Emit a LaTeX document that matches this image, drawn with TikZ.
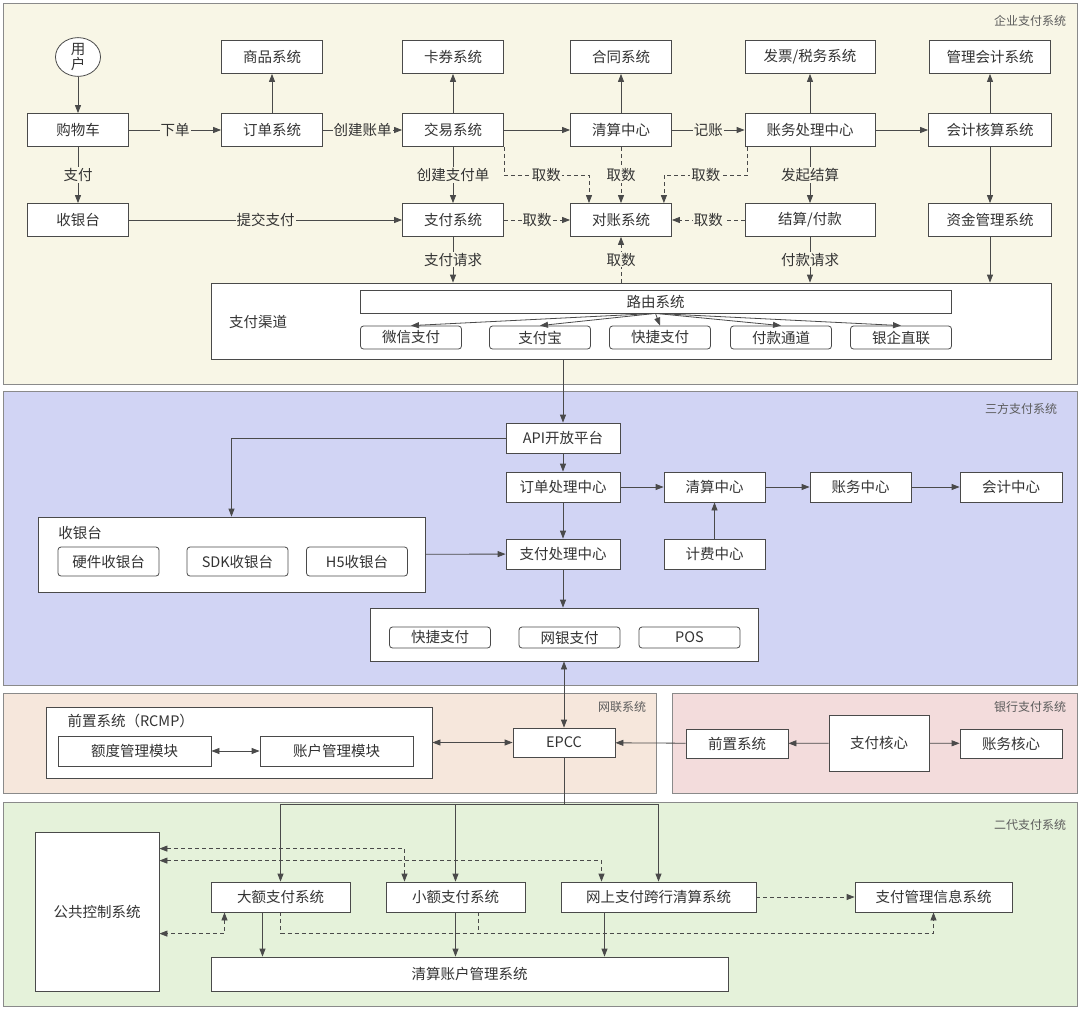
\documentclass[tikz,border=0pt]{standalone}
\usepackage{fontspec}
\setmainfont{Noto Sans CJK SC}
\usepackage{tikz}
\usetikzlibrary{
  positioning,
  calc,
  arrows.meta,
  shapes.geometric
}
\definecolor{qiyebg}{HTML}{F8F6E6}
\definecolor{sanfangbg}{HTML}{D1D4F4}
\definecolor{wangliangbg}{HTML}{F6E7DC}
\definecolor{yinhangbg}{HTML}{F3DCDC}
\definecolor{erdaibg}{HTML}{E5F2DA}
\definecolor{linecol}{HTML}{4A4A4A}
\definecolor{framecol}{HTML}{8A8A8A}
\definecolor{textcol}{HTML}{333333}
\newcommand{\boxfont}{\fontsize{14.5}{16}\selectfont}
\newcommand{\secfont}{\fontsize{12}{14}\selectfont}
\tikzstyle{box}=[draw=linecol, fill=white, line width=0.8pt, minimum width=101pt,
  minimum height=33pt, inner sep=0pt, font=\boxfont, text=textcol]
\tikzstyle{rbox}=[box, rounded corners=3pt, minimum height=23pt]
\tikzstyle{frame}=[draw=framecol, line width=1pt]
\tikzstyle{secname}=[font=\secfont, text=textcol!80]
\tikzstyle{conn}=[->, draw=linecol, line width=0.8pt]
\tikzstyle{fetch}=[conn, dash pattern=on 4pt off 3pt]
\tikzstyle{lbl}=[fill=qiyebg, inner sep=1pt, font=\boxfont, text=textcol]

\begin{document}
\begin{tikzpicture}[x=1pt, y=-1pt, >={Triangle[length=8pt,width=6pt]}]
  \useasboundingbox (0,0) rectangle (1080,1010);

  % 背景区域
  \fill[white] (0,0) rectangle (1080,1010);
  \draw[frame, fill=qiyebg] (3,3) rectangle (1077,384);
  \draw[frame, fill=sanfangbg] (3,391) rectangle (1077,685);
  \draw[frame, fill=wangliangbg] (3,693) rectangle (656,793);
  \draw[frame, fill=yinhangbg] (672,693) rectangle (1077,793);
  \draw[frame, fill=erdaibg] (3,802) rectangle (1077,1006);
  \node[secname] (t-qiye) at (1030,21) {企业支付系统};
  \node[secname] (t-sanfang) at (1021,409) {三方支付系统};
  \node[secname] (t-wanglian) at (622,707) {网联系统};
  \node[secname] (t-yinhang) at (1030,707) {银行支付系统};
  \node[secname] (t-erdai) at (1030,825) {二代支付系统};

  % 企业支付系统
  \node[ellipse, draw=linecol, fill=white, line width=0.8pt, minimum width=45pt,
    minimum height=37pt, inner sep=0pt, align=center, text=textcol,
    font=\fontsize{14.5}{15}\selectfont] (yonghu) at (78,57) {用\\户};
  \node[box] (shangpin) at (272,57) {商品系统};
  \node[box] (kaquan) at (453,57) {卡券系统};
  \node[box] (hetong) at (621,57) {合同系统};
  \node[box, minimum width=130pt] (fapiao) at (810,57) {发票/税务系统};
  \node[box, minimum width=121pt] (guanlikj) at (990,57) {管理会计系统};

  \node[box] (gouwuche) at (78,130) {购物车};
  \node[box] (dingdan) at (272,130) {订单系统};
  \node[box] (jiaoyi) at (453,130) {交易系统};
  \node[box] (qingsuan) at (621,130) {清算中心};
  \node[box, minimum width=130pt] (zhangwu) at (810,130) {账务处理中心};
  \node[box, minimum width=123pt] (hesuan) at (990,130) {会计核算系统};

  \node[box] (shouyin) at (78,220) {收银台};
  \node[box] (zhifu) at (453,220) {支付系统};
  \node[box] (duizhang) at (621,220) {对账系统};
  \node[box, minimum width=130pt] (jiesuan) at (810,220) {结算/付款};
  \node[box, minimum width=123pt] (zijin) at (990,220) {资金管理系统};

  % 支付渠道
  \node[box, minimum width=840pt, minimum height=76pt] (qudao) at (631,321) {};
  \node[font=\boxfont, text=textcol] (qudao-t) at (258,322) {支付渠道};
  \node[box, minimum width=591pt, minimum height=23pt] (luyou) at (655.5,301.5) {路由系统};
  \node[rbox] (weixin) at (411,337.5) {微信支付};
  \node[rbox] (zhifubao) at (540,337.5) {支付宝};
  \node[rbox] (kuaijie) at (660,337.5) {快捷支付};
  \node[rbox] (fukuan) at (781,337.5) {付款通道};
  \node[rbox] (yinqi) at (901,337.5) {银企直联};

  \draw[conn] (yonghu) -- (gouwuche);
  \draw[conn] (gouwuche) -- node[lbl] {下单} (dingdan);
  \draw[conn] (dingdan) -- node[lbl] {创建账单} (jiaoyi);
  \draw[conn] (jiaoyi) -- (qingsuan);
  \draw[conn] (qingsuan) -- node[lbl] {记账} (zhangwu);
  \draw[conn] (zhangwu) -- (hesuan);
  \draw[conn] (dingdan) -- (shangpin);
  \draw[conn] (jiaoyi) -- (kaquan);
  \draw[conn] (qingsuan) -- (hetong);
  \draw[conn] (zhangwu) -- (fapiao);
  \draw[conn] (hesuan) -- (guanlikj);
  \draw[conn] (hesuan) -- (zijin);
  \draw[conn] (gouwuche) -- node[lbl] {支付} (shouyin);
  \draw[conn] (shouyin) -- node[lbl] {提交支付} (zhifu);
  \draw[conn] (jiaoyi) -- node[lbl] {创建支付单} (zhifu);
  \draw[conn] (zhangwu) -- node[lbl] {发起结算} (jiesuan);
  \draw[conn] (zhifu) -- node[lbl] {支付请求} (zhifu |- qudao.north);
  \draw[conn] (jiesuan) -- node[lbl] {付款请求} (jiesuan |- qudao.north);
  \draw[conn] (zijin) -- (zijin |- qudao.north);

  % 取数
  \draw[fetch] (jiaoyi.south east) -- ++(0,28) -| node[lbl, pos=0.25] {取数}
    ([xshift=-32pt]duizhang.north);
  \draw[fetch] (qingsuan) -- node[lbl] {取数} (duizhang);
  \draw[fetch] ([xshift=3pt]zhangwu.south west) -- ++(0,28) -| node[lbl, pos=0.25] {取数}
    ([xshift=-8pt]duizhang.north east);
  \draw[fetch] (zhifu) -- node[lbl] {取数} (duizhang);
  \draw[fetch] (jiesuan) -- node[lbl] {取数} (duizhang);
  \draw[fetch] (duizhang |- qudao.north) -- node[lbl] {取数} (duizhang);

  \foreach \ch in {weixin, zhifubao, kuaijie, fukuan, yinqi}
    \draw[conn] (luyou.south) -- (\ch.north);

  % 三方支付系统
  \node[box, minimum width=114pt, minimum height=30pt] (api) at (563,438) {API开放平台};
  \node[box, minimum width=114pt, minimum height=30pt] (ddcl) at (563,487) {订单处理中心};
  \node[box, minimum width=114pt, minimum height=30pt] (zfcl) at (563,554) {支付处理中心};
  \node[box, minimum height=30pt] (qs2) at (714.5,487) {清算中心};
  \node[box, minimum height=30pt] (zw2) at (860.5,487) {账务中心};
  \node[box, minimum width=102pt, minimum height=30pt] (kj2) at (1011,487) {会计中心};
  \node[box, minimum height=30pt] (jifei) at (714.5,554) {计费中心};

  \node[box, minimum width=387pt, minimum height=75pt] (syt) at (231.5,554.5) {};
  \node[font=\boxfont, text=textcol] (syt-t) at (80,533) {收银台};
  \node[rbox, minimum height=29pt] (yingjian) at (108.5,561.5) {硬件收银台};
  \node[rbox, minimum height=29pt] (sdk) at (237.5,561.5) {SDK收银台};
  \node[rbox, minimum height=29pt] (hfive) at (357,561.5) {H5收银台};

  \node[box, minimum width=388pt, minimum height=53pt] (fangshi) at (564,634.5) {};
  \node[rbox, minimum height=21pt] (kj3) at (440,637.5) {快捷支付};
  \node[rbox, minimum height=21pt] (wangyin) at (569.5,637.5) {网银支付};
  \node[rbox, minimum height=21pt] (pos) at (689.5,637.5) {POS};

  \draw[conn] (api |- qudao.south) -- (api);
  \draw[conn] (api) -| (syt);
  \draw[conn] (api) -- (ddcl);
  \draw[conn] (ddcl) -- (zfcl);
  \draw[conn] (ddcl) -- (qs2);
  \draw[conn] (qs2) -- (zw2);
  \draw[conn] (zw2) -- (kj2);
  \draw[conn] (jifei) -- (qs2);
  \draw[conn] (syt) -- (zfcl);
  \draw[conn] (zfcl) -- (zfcl |- fangshi.north);

  % 网联系统 / 银行支付系统
  \node[box, minimum width=102pt, minimum height=29pt] (epcc) at (564,742.5) {EPCC};
  \node[box, minimum width=386pt, minimum height=71pt] (rcmp) at (239,742.5) {};
  \node[font=\boxfont, text=textcol, anchor=west] (rcmp-t) at (64,721) {前置系统（RCMP）};
  \node[box, minimum width=153pt, minimum height=30pt] (edu) at (134.5,751) {额度管理模块};
  \node[box, minimum width=153pt, minimum height=30pt] (zhanghu) at (336.5,751) {账户管理模块};
  \node[box, minimum width=102pt, minimum height=29pt] (qianzhi) at (737,743.5) {前置系统};
  \node[box, minimum width=100pt, minimum height=56pt] (hexin) at (879,743) {支付核心};
  \node[box, minimum width=102pt, minimum height=29pt] (zwhx) at (1011,743.5) {账务核心};

  \draw[conn, <->] (fangshi.south -| epcc) -- (epcc);
  \draw[conn, <->] (edu) -- (zhanghu);
  \draw[conn, <->] (rcmp) -- (epcc);
  \draw[conn] (qianzhi) -- (epcc);
  \draw[conn] (hexin) -- (qianzhi);
  \draw[conn] (hexin) -- (zwhx);

  % 二代支付系统
  \node[box, minimum width=139pt, minimum height=30pt] (dae) at (280.5,897) {大额支付系统};
  \node[box, minimum width=139pt, minimum height=30pt] (xiaoe) at (455.5,897) {小额支付系统};
  \node[box, minimum width=195pt, minimum height=30pt] (wangshang) at (658.5,897) {网上支付跨行清算系统};
  \node[box, minimum width=157pt, minimum height=30pt] (guanli) at (933.5,897) {支付管理信息系统};
  \node[box, minimum width=124pt, minimum height=159pt] (gonggong) at (97,911.5) {公共控制系统};
  \node[box, minimum width=517pt, minimum height=34pt] (qszh) at (469.5,974) {清算账户管理系统};

  \draw[draw=linecol, line width=0.8pt] (epcc) -- ++(0,62) coordinate (fork);
  \draw[conn] (fork) -| (dae);
  \draw[conn] (fork) -| (xiaoe);
  \draw[conn] (fork) -| (wangshang);

  \draw[fetch, <->] ([yshift=-17pt]gonggong.north east) -| ([xshift=-51pt]xiaoe.north);
  \draw[fetch, <->] ([yshift=-29pt]gonggong.north east) -| ([xshift=-57pt]wangshang.north);
  \draw[fetch, <->] ([xshift=-56pt]dae.south) |- ([yshift=-102pt]gonggong.north east);
  \draw[fetch] (dae.south) -- ++(0,21) coordinate (mis) -| (guanli);
  \coordinate (xiaoe-out) at ([xshift=23pt]xiaoe.south);
  \draw[draw=linecol, line width=0.8pt, dash pattern=on 4pt off 3pt] (xiaoe-out) -- (xiaoe-out |- mis);
  \draw[fetch] (wangshang) -- (guanli);

  \coordinate (dae-out) at ([xshift=-18pt]dae.south);
  \coordinate (ws-out) at ([xshift=-54pt]wangshang.south);
  \draw[conn] (dae-out) -- (dae-out |- qszh.north);
  \draw[conn] (xiaoe) -- (xiaoe |- qszh.north);
  \draw[conn] (ws-out) -- (ws-out |- qszh.north);
\end{tikzpicture}
\end{document}
